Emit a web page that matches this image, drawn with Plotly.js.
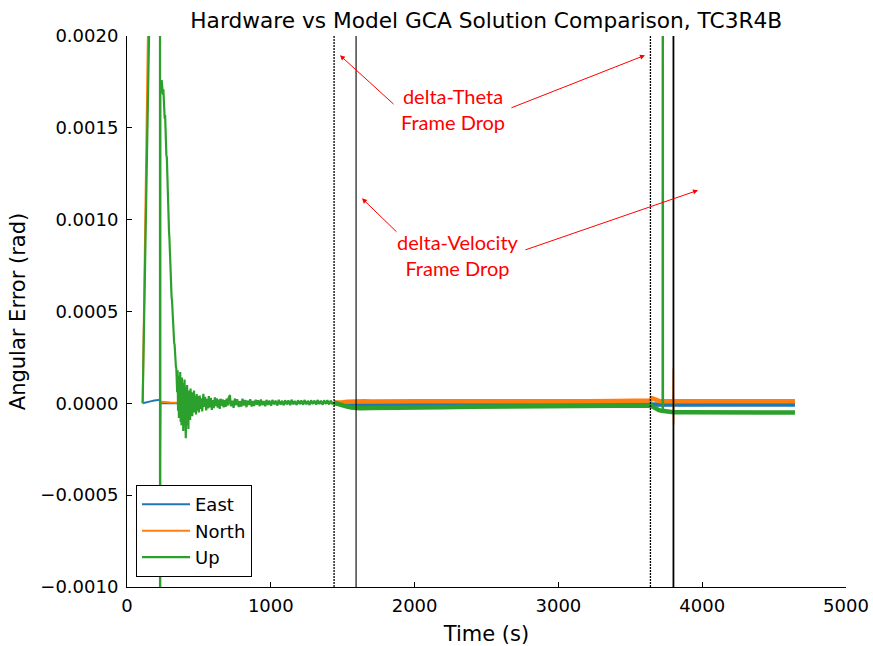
<!DOCTYPE html>
<html>
<head>
<meta charset="utf-8">
<script src="https://cdn.plot.ly/plotly-3.0.1.min.js"></script>
<style>html,body{margin:0;padding:0;background:#fff;}#chart{width:873px;height:646px;}</style>
</head>
<body>
<div id="chart"></div>
<script>
// Values in micro-radians (converted to rad below); time in seconds
const eastT = [109, 125, 140, 155, 170, 190, 210, 228, 231, 240, 300, 400, 600, 800, 1000, 1200, 1440];
const eastV = [0, 4, 7, 10, 12, 15, 17, 19, 2, 1, 0, 1, 0, 1, 0, 1, 2];
const eastLateT = [1440, 1480, 1520, 1560, 1600, 1700, 1800, 2000, 2200, 2400, 2600, 2800, 3000, 3200, 3400, 3600, 3640, 3660, 3690, 3720, 3760, 3800, 4000, 4200, 4400, 4645];
const eastLateV = [2, -2, -4, -6, -7, -8, -7, -8, -7, -8, -7, -7, -8, -7, -7, -6, -5, -3, -7, -7, -7, -7, -6, -7, -6, -7];

const northT = [109, 147, 228, 230, 231, 234, 240, 260, 300, 400, 600, 800, 1000, 1200, 1440];
const northV = [0, 2100, 10000, -260, -100, 5, 8, 6, 5, 3, 4, 3, 2, 4, 5];
const northLateT = [1440, 1470, 1500, 1530, 1560, 1600, 1650, 1700, 1800, 1900, 2000, 2200, 2400, 2600, 2800, 3000, 3200, 3400, 3600, 3640, 3650, 3665, 3680, 3700, 3730, 3760, 3790, 3850, 4000, 4200, 4400, 4645];
const northLateV = [4, 2, 6, 8, 10, 9, 11, 10, 12, 10, 11, 12, 11, 13, 12, 11, 12, 13, 14, 15, 28, 24, 18, 13, 12, 11, 11, 11, 11, 11, 11, 11];
const northSpikeT = [3797, 3799, 3801, 3803];
const northSpikeV = [11, 190, -120, 11];

const upT = [109, 160, 229, 230, 232, 235, 238, 241, 244, 247, 250, 253, 256, 259, 262, 265, 268, 271, 274, 277, 280, 283, 286, 289, 292, 295, 298, 301, 304, 307, 310, 313, 316, 319, 322, 325, 328, 331, 334, 337, 340, 343, 346,
  349, 352, 355, 358, 361, 364, 367, 370, 373, 376, 379, 382, 385, 388, 391, 394, 397, 400, 403, 406, 409, 412, 415, 418, 421, 424, 427, 430, 433, 436, 439, 442, 446, 450, 454, 458, 462, 466, 470, 475, 480, 485, 490, 495, 500,
  506, 511, 518, 523, 531, 537, 543, 551, 556, 564, 569, 577, 583, 590, 597, 603, 611, 616, 624, 631, 637, 645, 650, 659, 665, 672, 679, 686, 693, 700,
  706, 716, 722, 733, 741, 750, 759, 766, 777, 785, 795, 803, 812, 822, 831, 838, 849, 857, 867, 876, 884, 895, 904, 912, 923, 931, 942, 951, 962, 970, 981, 990,
  1002, 1011, 1024, 1033, 1046, 1055, 1068, 1077, 1090, 1099, 1112, 1122, 1135, 1144, 1157, 1166, 1180, 1189, 1202, 1212, 1225, 1234, 1248, 1257, 1270, 1280, 1293, 1302, 1316, 1325, 1338, 1348, 1361, 1370, 1384, 1393, 1406, 1416, 1428, 1440];
const upV = [0, 2300, 10000, -5000, 1700, 1720, 1690, 1760, 1720, 1740, 1680, 1710, 1630, 1650, 1550, 1570, 1450, 1470, 1350, 1340, 1230, 1200, 1080, 1050, 940, 900, 810, 770, 690, 660, 580, 560, 490, 470, 410, 380, 330, 320, 260, 250, 200, 190, 140,
  60, 180, -40, 150, -80, 120, -60, 170, -100, 90, -120, 140, -70, 110, -150, 80, -90, 130, -60, 60, -190, 90, -120, 100, -80, 60, -140, 70, -60, 50, -90, 80, -50, 60, -70, 50, -40, 70, -50, 40, -60, 50, -40, 40, -50,
  42, -30, 28, -44, 52, -20, 36, -38, 24, -28, 40, -22, 30, -36, 18, -26, 33, -15, 27, -24, 20, -30, 25, -14, 22, -22, 17, -19, 26, -12,
  28, 45, -16, 14, -24, 26, -10, 22, -20, 12, -18, 25, -12, 18, -21, 15, -9, 22, -17, 12, -14, 20, -8, 17, -15, 21, -10, 13, -16, 19, -9, 15,
  -13, 18, -6, 15, -12, 19, -7, 14, -11, 17, -5, 16, -10, 20, -6, 13, -9, 17, -4, 16, -8, 18, -5, 14, -9, 17, -3, 15, -7, 18, -4, 14, -8, 16, -3, 17, -6, 15, -2, 3];
const upLateT = [1440, 1460, 1480, 1500, 1530, 1560, 1590, 1620, 1700, 1800, 1900, 2000, 2200, 2400, 2600, 2800, 3000, 3200, 3400, 3600, 3640, 3660, 3680, 3700, 3720, 3750, 3780, 3800, 3900, 4000, 4200, 4400, 4645];
const upLateV = [3, -3, -8, -13, -18, -23, -26, -27, -26, -24, -23, -22, -21, -19, -18, -17, -16, -15, -14, -13, -12, -20, -30, -37, -41, -45, -47, -48, -49, -49, -50, -50, -50];
const upSpikeT = [3722, 3726, 3730, 3733];
const upSpikeV = [-41, 10000, -44, -44];

// Frame-drop event markers (s)
const thetaDrops = [1440, 3640];
const velocityDrops = [1593, 3800];

const seriesNames = ['East', 'North', 'Up'];
const colors = ['#1f77b4', '#ff7f0e', '#2ca02c'];
const u = a => a.map(v => v * 1e-6);

const traces = [
  {x: eastT, y: u(eastV), name: seriesNames[0], line: {color: colors[0], width: 2}},
  {x: eastLateT, y: u(eastLateV), name: seriesNames[0], line: {color: colors[0], width: 4.5}, showlegend: false},
  {x: northT, y: u(northV), name: seriesNames[1], line: {color: colors[1], width: 2}},
  {x: northLateT, y: u(northLateV), name: seriesNames[1], line: {color: colors[1], width: 4.5}, showlegend: false},
  {x: northSpikeT, y: u(northSpikeV), name: seriesNames[1], line: {color: colors[1], width: 1.5}, showlegend: false},
  {x: upT, y: u(upV), name: seriesNames[2], line: {color: colors[2], width: 2.2}},
  {x: upLateT, y: u(upLateV), name: seriesNames[2], line: {color: colors[2], width: 4.5}, showlegend: false},
  {x: upSpikeT, y: u(upSpikeV), name: seriesNames[2], line: {color: colors[2], width: 1.5}, showlegend: false}
].map(t => Object.assign({type: 'scatter', mode: 'lines', hoverinfo: 'skip'}, t));

const shapes = [];
thetaDrops.forEach(x => shapes.push({type: 'line', xref: 'x', yref: 'paper', x0: x, x1: x, y0: 0, y1: 1, line: {color: '#000', width: 1.3, dash: '2px,1px'}}));
velocityDrops.forEach((x, i) => shapes.push({type: 'line', xref: 'x', yref: 'paper', x0: x, x1: x, y0: 0, y1: 1, line: {color: '#000', width: i === 1 ? 1.8 : 1.1}}));

const red = '#ff0000';
const annFont = {family: 'Lato, sans-serif', size: 20, color: red};
const arrows = [
  {x: 1481, y: 0.001895, ax: 1864, ay: 0.001622},
  {x: 3602, y: 0.001895, ax: 2663, ay: 0.001606},
  {x: 1634, y: 0.001116, ax: 1885, ay: 0.000926},
  {x: 3971, y: 0.00116, ax: 2761, ay: 0.000833}
].map(a => Object.assign({xref: 'x', yref: 'y', axref: 'x', ayref: 'y', text: '', showarrow: true, arrowhead: 2, arrowsize: 1, arrowwidth: 1, arrowcolor: red, standoff: 0, startstandoff: 0}, a));
const annotations = arrows.concat([
  {x: 2267, y: 0.0016, xref: 'x', yref: 'y', text: 'delta-Theta<br>Frame Drop', showarrow: false, font: annFont, align: 'center'},
  {x: 2302, y: 0.00081, xref: 'x', yref: 'y', text: 'delta-Velocity<br>Frame Drop', showarrow: false, font: annFont, align: 'center'}
]);

const axisFont = {family: 'DejaVu Sans, sans-serif', size: 18, color: '#000'};
const titleFont = {family: 'DejaVu Sans, sans-serif', size: 21, color: '#000'};
const layout = {
  width: 873, height: 646,
  margin: {l: 127, r: 27, t: 36, b: 59},
  paper_bgcolor: '#fff', plot_bgcolor: '#fff',
  font: {family: 'DejaVu Sans, sans-serif', color: '#000'},
  title: {text: 'Hardware vs Model GCA Solution Comparison, TC3R4B', font: {family: 'DejaVu Sans, sans-serif', size: 21.7, color: '#000'}, x: 0.557, xanchor: 'center', y: 0.968, yanchor: 'middle'},
  xaxis: {range: [0, 5000], tickvals: [0, 1000, 2000, 3000, 4000, 5000], ticktext: ['0', '1000', '2000', '3000', '4000', '5000'],
    ticks: 'inside', ticklen: 5, tickcolor: '#000', showline: true, linecolor: '#000', linewidth: 1, showgrid: false, zeroline: false,
    ticklabelstandoff: 2,
    tickfont: axisFont, title: {text: 'Time (s)', font: titleFont, standoff: 13}},
  yaxis: {range: [-0.001, 0.002], tickvals: [-0.001, -0.0005, 0, 0.0005, 0.001, 0.0015, 0.002], tickformat: '.4f',
    ticks: 'inside', ticklen: 5, tickcolor: '#000', showline: true, linecolor: '#000', linewidth: 1, showgrid: false, zeroline: false,
    ticklabelstandoff: 4,
    tickfont: axisFont, title: {text: 'Angular Error (rad)', font: titleFont, standoff: 8}},
  legend: {x: 0.0125, y: 0.018, xanchor: 'left', yanchor: 'bottom', bgcolor: '#fff', bordercolor: '#000', borderwidth: 1,
    tracegroupgap: 0, itemwidth: 48,
    font: {family: 'DejaVu Sans, sans-serif', size: 18, color: '#000'}},
  shapes: shapes,
  annotations: annotations,
  showlegend: true
};

Plotly.newPlot('chart', traces, layout, {displayModeBar: false, staticPlot: true});
</script>
</body>
</html>
